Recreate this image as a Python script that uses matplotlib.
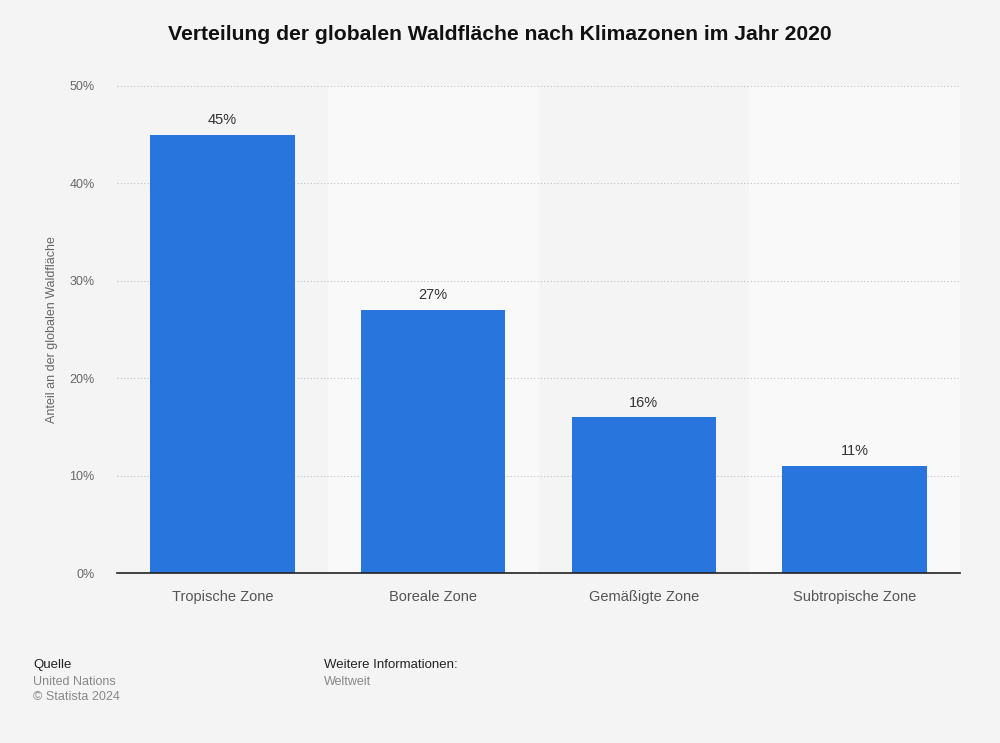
import matplotlib
matplotlib.use("Agg")
import matplotlib.pyplot as plt
import numpy as np

categories = ["Tropische Zone", "Boreale Zone", "Gemäßigte Zone", "Subtropische Zone"]
values = [45, 27, 16, 11]
value_labels = ["45%", "27%", "16%", "11%"]
yticks = [0, 10, 20, 30, 40, 50]
ytick_labels = ["0%", "10%", "20%", "30%", "40%", "50%"]

plt.rcParams['font.family'] = ['Liberation Sans', 'DejaVu Sans']

bg = "#f4f4f4"
fig = plt.figure(figsize=(10, 7.43), dpi=100, facecolor=bg)
ax = fig.add_axes([0.117, 0.2288, 0.843, 0.6555])
ax.set_facecolor(bg)

x = np.arange(len(categories))
for i in x:
    if i % 2 == 1:
        ax.axvspan(i - 0.5, i + 0.5, color="#f9f9f9", zorder=0, lw=0)

ax.bar(x, values, width=0.685, color="#2876dd", zorder=3)
for xi, v, lab in zip(x, values, value_labels):
    ax.annotate(lab, (xi, v), xytext=(0, 5.5), textcoords="offset points",
                ha="center", va="bottom", fontsize=10.5, color="#333333")

ax.set_xlim(-0.5, len(categories) - 0.5)
ax.set_ylim(0, 50)
ax.set_yticks(yticks)
ax.set_yticklabels(ytick_labels)
ax.set_xticks(x)
ax.set_xticklabels(categories)
ax.tick_params(axis="y", length=0, pad=16, labelsize=9, labelcolor="#666666")
ax.tick_params(axis="x", length=0, pad=12, labelsize=10.5, labelcolor="#555555")
ax.grid(axis="y", color="#c0c0c0", linestyle=(0, (1, 2)), linewidth=0.8, zorder=1)
for s in ["top", "right", "left"]:
    ax.spines[s].set_visible(False)
ax.spines["bottom"].set_color("#222222")
ax.spines["bottom"].set_linewidth(1.2)
ax.spines["bottom"].set_zorder(4)

ax.set_ylabel("Anteil an der globalen Waldfläche", fontsize=9, color="#666666", labelpad=8)

fig.text(0.5, 1 - 35 / 743, "Verteilung der globalen Waldfläche nach Klimazonen im Jahr 2020",
         ha="center", va="center", fontsize=15.2, fontweight="bold", color="#111111")

fig.text(0.033, 1 - 665 / 743, "Quelle", fontsize=9.5, color="#222222", va="center")
fig.text(0.033, 1 - 682 / 743, "United Nations", fontsize=9, color="#888888", va="center")
fig.text(0.033, 1 - 697 / 743, "© Statista 2024", fontsize=9, color="#888888", va="center")
fig.text(0.324, 1 - 665 / 743, "Weitere Informationen:", fontsize=9.5, color="#222222", va="center")
fig.text(0.324, 1 - 682 / 743, "Weltweit", fontsize=9, color="#888888", va="center")

fig.savefig("out.png", dpi=100, facecolor=bg)
